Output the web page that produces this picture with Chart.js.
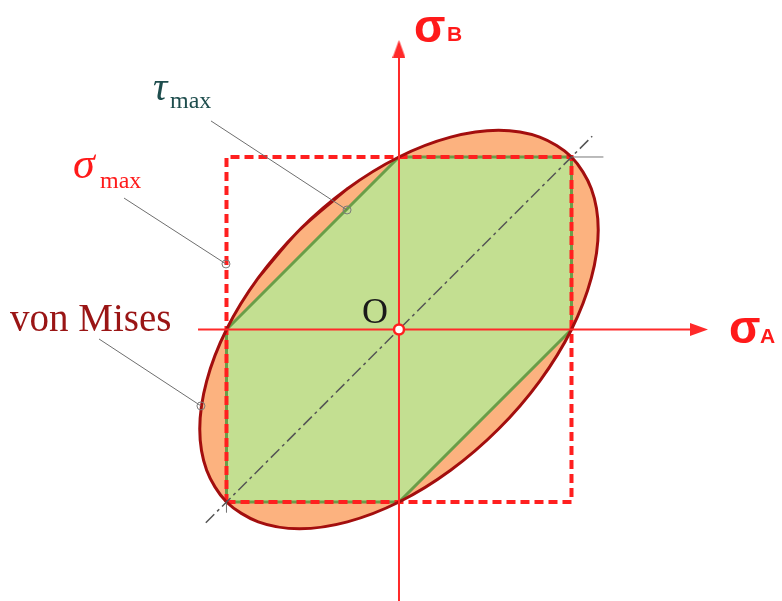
<!DOCTYPE html>
<html>
<head>
<meta charset="utf-8">
<script src="https://cdn.jsdelivr.net/npm/chart.js@4.4.1/dist/chart.umd.min.js"></script>
<style>
html, body { margin: 0; padding: 0; background: #fff; }
#wrap { width: 782px; height: 601px; }
</style>
</head>
<body>
<div id="wrap"><canvas id="grafico" width="782" height="601"></canvas></div>
<script>
// Critérios de escoamento no plano (sigma_A, sigma_B), unidades de sigma_y
// elipse de von Mises (começa no eixo menor, lado esquerdo-alto)
const misesA = [-0.577, -0.816, -1.000, -1.115, -1.155, -1.115, -1.000, -0.816, -0.577, -0.299, 0.000, 0.299,
                0.577, 0.816, 1.000, 1.115, 1.155, 1.115, 1.000, 0.816, 0.577, 0.299, 0.000, -0.299];
const misesB = [0.577, 0.299, 0.000, -0.299, -0.577, -0.816, -1.000, -1.115, -1.155, -1.115, -1.000, -0.816,
                -0.577, -0.299, 0.000, 0.299, 0.577, 0.816, 1.000, 1.115, 1.155, 1.115, 1.000, 0.816];
// hexágono de Tresca (tau max)
const trescaA = [1, 1, 0, -1, -1, 0, 1];
const trescaB = [0, 1, 1, 0, -1, -1, 0];
// quadrado de Rankine (sigma max)
const rankineA = [-1, 1, 1, -1, -1];
const rankineB = [-1, -1, 1, 1, -1];
// reta sigma_A = sigma_B
const diagA = [-1.12, 1.12];
const diagB = [-1.12, 1.12];
// extensão dos eixos
const eixoA = [-1.165, 1.70];
const eixoB = [-1.60, 1.60];

function pares(xs, ys) {
    return xs.map((v, i) => ({ x: v, y: ys[i] }));
}

let elipse = pares(misesA, misesB);
// fecha a curva com sobreposição para a suavização não quebrar no ponto inicial
let elipseFechada = [elipse[elipse.length - 1], ...elipse, elipse[0], elipse[1]];

// ponta de seta estreita
function criarSeta() {
    const c = document.createElement('canvas');
    c.width = 18; c.height = 13;
    const g = c.getContext('2d');
    g.fillStyle = '#ff2a2a';
    g.beginPath();
    g.moveTo(0, 0); g.lineTo(18, 6.5); g.lineTo(0, 13);
    g.closePath();
    g.fill();
    return c;
}
const seta = criarSeta();

const linha = (dados, extra) => Object.assign({
    data: dados, showLine: true, pointRadius: 0, fill: false, tension: 0
}, extra);

// rótulos de texto
const rotulos = {
    id: 'rotulos',
    afterDatasetsDraw(chart) {
        const ctx = chart.ctx;
        ctx.save();
        ctx.textBaseline = 'alphabetic';
        ctx.textAlign = 'left';

        ctx.fillStyle = '#ff1a1a';
        ctx.font = 'bold 46px "Liberation Sans"';
        ctx.fillText('σ', 414, 42);
        ctx.font = 'bold 21px "Liberation Sans"';
        ctx.fillText('B', 447, 41);
        ctx.font = 'bold 46px "Liberation Sans"';
        ctx.fillText('σ', 729, 343);
        ctx.font = 'bold 21px "Liberation Sans"';
        ctx.fillText('A', 760, 343);

        ctx.fillStyle = '#1e4d4d';
        ctx.font = 'italic 40px "Liberation Serif"';
        ctx.fillText('τ', 153, 100);
        ctx.font = '24px "Liberation Serif"';
        ctx.fillText('max', 170, 108);

        ctx.fillStyle = '#ff1a1a';
        ctx.font = 'italic 44px "Liberation Serif"';
        ctx.fillText('σ', 73, 178);
        ctx.font = '24px "Liberation Serif"';
        ctx.fillText('max', 100, 188);

        ctx.fillStyle = '#9a1515';
        ctx.font = '39px "Liberation Serif"';
        ctx.fillText('von Mises', 10, 331);

        ctx.fillStyle = '#1a1a1a';
        ctx.font = '36px "Liberation Serif"';
        ctx.fillText('O', 362, 323);
        ctx.restore();
    }
};

const chicote = (a, b) => linha([{ x: a[0], y: a[1] }, { x: b[0], y: b[1] }], {
    borderColor: '#6e6e6e', borderWidth: 1,
    pointRadius: [0, 4], pointBorderColor: '#7a7a7a', pointBorderWidth: 1,
    pointBackgroundColor: 'rgba(255,255,255,0)', order: 1
});

new Chart(document.getElementById('grafico'), {
    type: 'scatter',
    data: {
        datasets: [
            // preenchimento da elipse (fundo)
            linha(elipseFechada, { fill: 'shape', backgroundColor: '#fcb27f', borderWidth: 0, tension: 0.3, order: 10 }),
            // hexágono de Tresca
            linha(pares(trescaA, trescaB), { fill: 'shape', backgroundColor: '#c3df91', borderColor: '#6a9e48', borderWidth: 3, order: 9 }),
            // quadrado tracejado
            linha(pares(rankineA, rankineB), { borderColor: '#ff1f1f', borderWidth: 4, borderDash: [9, 5], order: 8 }),
            // contorno da elipse
            linha(elipseFechada, { borderColor: '#a30e0e', borderWidth: 3, tension: 0.3, order: 7 }),
            // traços finos cinzentos nos cantos
            linha([{ x: 1, y: 1 }, { x: 1.185, y: 1 }], { borderColor: '#777', borderWidth: 1, order: 6 }),
            linha([{ x: -1, y: -1 }, { x: -1, y: -1.06 }], { borderColor: '#777', borderWidth: 1, order: 6 }),
            // diagonal traço-ponto
            linha(pares(diagA, diagB), { borderColor: '#555', borderWidth: 1.5, borderDash: [12, 4, 3, 4], order: 5 }),
            // eixos
            linha([{ x: eixoA[0], y: 0 }, { x: eixoA[1], y: 0 }], { borderColor: '#ff2a2a', borderWidth: 2, order: 4 }),
            linha([{ x: 0, y: eixoB[0] }, { x: 0, y: eixoB[1] }], { borderColor: '#ff2a2a', borderWidth: 2, order: 4 }),
            { data: [{ x: 1.739, y: 0 }], pointStyle: seta, rotation: 0, order: 3 },
            { data: [{ x: 0, y: 1.626 }], pointStyle: seta, rotation: -90, order: 3 },
            // origem
            { data: [{ x: 0, y: 0 }], pointRadius: 5, pointBackgroundColor: '#fff', pointBorderColor: '#ff1f1f', pointBorderWidth: 2.5, order: 2 },
            // linhas de chamada
            chicote([-1.090, 1.209], [-0.301, 0.693]),
            chicote([-1.594, 0.762], [-1.003, 0.380]),
            chicote([-1.739, -0.055], [-1.148, -0.443])
        ]
    },
    options: {
        responsive: false,
        animation: false,
        devicePixelRatio: 1,
        layout: { padding: 0, autoPadding: false },
        plugins: { legend: { display: false }, tooltip: { enabled: false } },
        scales: {
            x: { type: 'linear', min: -2.313, max: 2.2203, display: false },
            y: { type: 'linear', min: -1.5739, max: 1.9101, display: false }
        }
    },
    plugins: [rotulos]
});
</script>
</body>
</html>
